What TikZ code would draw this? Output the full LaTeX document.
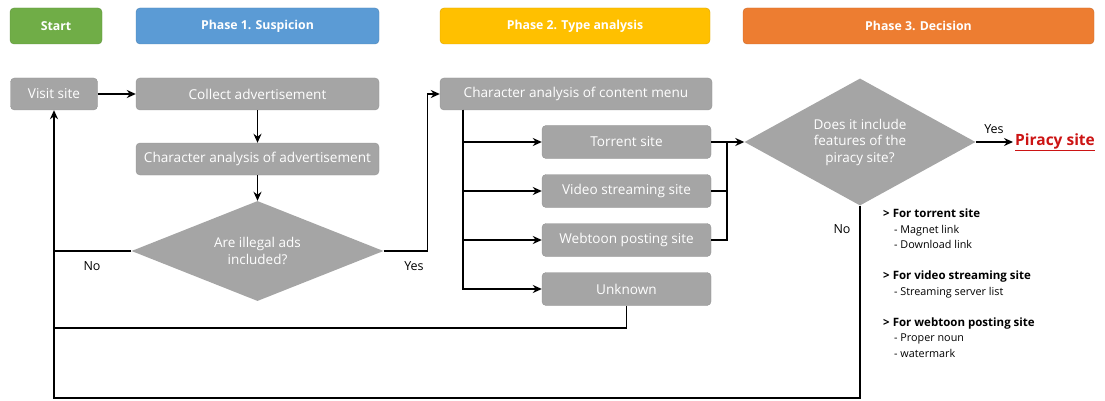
\documentclass[tikz,border=0pt]{standalone}
\usepackage{fontspec}
\setmainfont{Open Sans}
\usetikzlibrary{shapes.geometric,arrows.meta}
\definecolor{startgreen}{RGB}{112,173,71}
\definecolor{phaseblue}{RGB}{91,155,213}
\definecolor{phaseyellow}{RGB}{255,192,0}
\definecolor{phaseorange}{RGB}{237,125,49}
\definecolor{boxgray}{RGB}{165,165,165}
\definecolor{piracyred}{RGB}{204,20,20}

\tikzset{
  header/.style={rounded corners=4pt, draw=#1!85!black, fill=#1, text=white,
    font=\bfseries\fontsize{12.3}{14}\selectfont, minimum height=36pt, inner sep=0pt},
  stepbox/.style={rounded corners=4pt, draw=boxgray!90!black, fill=boxgray, text=white,
    font=\fontsize{13.6}{16}\selectfont, minimum height=32pt, inner sep=0pt},
  decision/.style={diamond, aspect=2, fill=boxgray, text=white, inner sep=0pt, align=center,
    font=\fontsize{13.5}{16.5}\selectfont},
  link/.style={line width=1.5pt},
  flow/.style={link, -{Stealth[length=9pt,width=8pt]}},
  label/.style={font=\fontsize{12.5}{14}\selectfont}
}

\begin{document}
\begin{tikzpicture}[x=1pt,y=-1pt]
\useasboundingbox (0,0) rectangle (1105,401);

% Phase headers
\foreach \name/\cx/\w/\col/\txt in {start/56/92/startgreen/Start, ph1/257.5/243/phaseblue/Phase 1. Suspicion,
    ph2/575/270/phaseyellow/Phase 2. Type analysis, ph3/918.5/351/phaseorange/Phase 3. Decision} {
    \node[header=\col, minimum width=\w pt] (\name) at (\cx,26) {\txt};
}

% Phase 1
\node[stepbox, minimum width=87pt] (visit) at (54,94) {Visit site};
\node[stepbox, minimum width=243pt] (collect) at (257.5,94) {Collect advertisement};
\node[stepbox, minimum width=243pt] (adchar) at (257.5,159) {Character analysis of advertisement};
\node[decision, minimum width=252pt, minimum height=100pt] (illegal) at (257.5,251) {Are illegal ads\\included?};

% Phase 2
\node[stepbox, minimum width=272pt] (menu) at (576,94) {Character analysis of content menu};
\foreach \name/\cy/\txt in {torrent/142/Torrent site, video/191/Video streaming site,
    webtoon/240/Webtoon posting site, unknown/289/Unknown} {
    \node[stepbox, minimum width=169pt, minimum height=33pt] (\name) at (626.5,\cy) {\txt};
}

% Phase 3
\node[decision, minimum width=231pt, minimum height=127pt] (features) at (860,142) {Does it include\\features of the\\piracy site?};
\node[anchor=west, inner sep=2pt, text=piracyred, font=\bfseries\fontsize{15.5}{17}\selectfont] (piracy) at (1013,142) {\underline{Piracy site}};
\node[anchor=north west, align=left, inner sep=0pt, font=\fontsize{10.8}{15.5}\selectfont] (notes) at (883,209)
  {\textbf{\fontsize{11.5}{15.5}\selectfont > For torrent site}\\
   \hspace{11pt}- Magnet link\\
   \hspace{11pt}- Download link\\[15.5pt]
   \textbf{\fontsize{11.5}{15.5}\selectfont > For video streaming site}\\
   \hspace{11pt}- Streaming server list\\[15.5pt]
   \textbf{\fontsize{11.5}{15.5}\selectfont > For webtoon posting site}\\
   \hspace{11pt}- Proper noun\\
   \hspace{11pt}- watermark};

% Labels
\node[label] (no1) at (92,266) {No};
\node[label] (yes1) at (414,266) {Yes};
\node[label] (yes2) at (994,129) {Yes};
\node[label] (no2) at (842,229) {No};

% Connectors
\coordinate (back) at (54,398);
\coordinate (unkturn) at (54,328);
\coordinate (menutrunk) at (463,110);
\coordinate (merge) at (727,142);

\draw[flow] (visit) -- (collect);
\draw[flow] (collect) -- (adchar);
\draw[flow] (adchar) -- (illegal);
\draw[flow] (illegal.east) -- ++(44,0) |- (menu.west);
\draw[link] (illegal.west) -- (illegal.west -| visit.south);
\foreach \s in {torrent,video,webtoon,unknown} {
    \draw[flow] (menutrunk) |- (\s.west);
}
\draw[flow] (torrent.east) -- (features.west);
\foreach \s in {video,webtoon} {
    \draw[link] (\s.east) -| (merge);
}
\draw[flow] (features.east) -- (piracy.west);
\draw[link] (unknown.south) |- (unkturn);
\draw[flow] (features.south) |- (back) -- (visit.south);
\end{tikzpicture}
\end{document}
